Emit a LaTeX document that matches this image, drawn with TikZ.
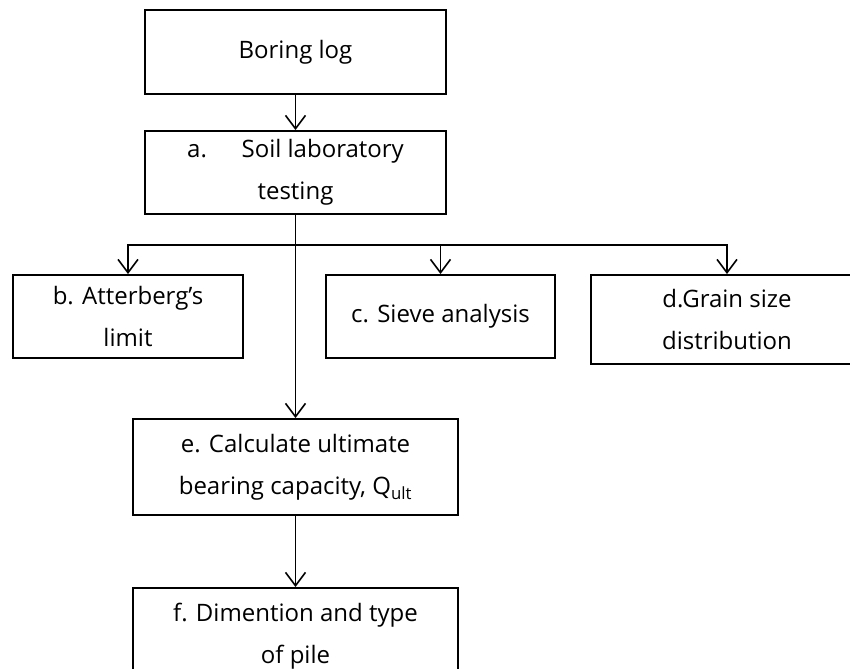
\documentclass[tikz,border=0pt]{standalone}
\usepackage{fontspec}
\setmainfont{Open Sans}
\usetikzlibrary{arrows.meta}

\begin{document}
\begin{tikzpicture}[x=0.75pt, y=0.75pt, >={Straight Barb[length=10pt,width=15pt]},
  box/.style={draw, line width=1.4pt, align=center, inner sep=0pt,
    font=\fontsize{18}{31.5}\selectfont},
  link/.style={line width=1.2pt}]
  \useasboundingbox (0,0) rectangle (850,668);
  \clip (0,0) rectangle (850,668);

  % Boring log and lab testing
  \node[box, minimum width=225.75pt, minimum height=63pt] (boring) at (295.5,616) {Boring log};
  \node[box, minimum width=225.75pt, minimum height=62.25pt] (lab) at (295.5,495.5)
    {a.\hspace{26pt}Soil laboratory\\testing};

  % Three tests
  \node[box, minimum width=172.5pt, minimum height=62.25pt] (atterberg) at (128,351.5)
    {b. Atterberg's\\limit};
  \node[box, minimum width=171.75pt, minimum height=62.25pt] (sieve) at (440.5,351.5)
    {c. Sieve analysis};
  \node[box, minimum width=204pt, minimum height=66.75pt] (grain) at (727,348.5)
    {d.Grain size\\distribution};

  % Capacity and pile
  \node[box, minimum width=243.75pt, minimum height=72pt] (capacity) at (295.5,201)
    {e. Calculate ultimate\\bearing capacity, Q\textsubscript{ult}};
  \node[box, minimum width=243.75pt, minimum height=72pt] (pile) at (295.5,32)
    {f. Dimention and type\\of pile};

  % Connectors
  \coordinate (split) at (295.5,423);
  \draw[link,->] (boring) -- (lab);
  \draw[link,->] (lab) -- (capacity);
  \draw[link,->] (split) -| (atterberg);
  \draw[link,->] (split) -| (sieve);
  \draw[link,->] (split) -| (grain);
  \draw[link,->] (capacity) -- (pile);
\end{tikzpicture}
\end{document}
